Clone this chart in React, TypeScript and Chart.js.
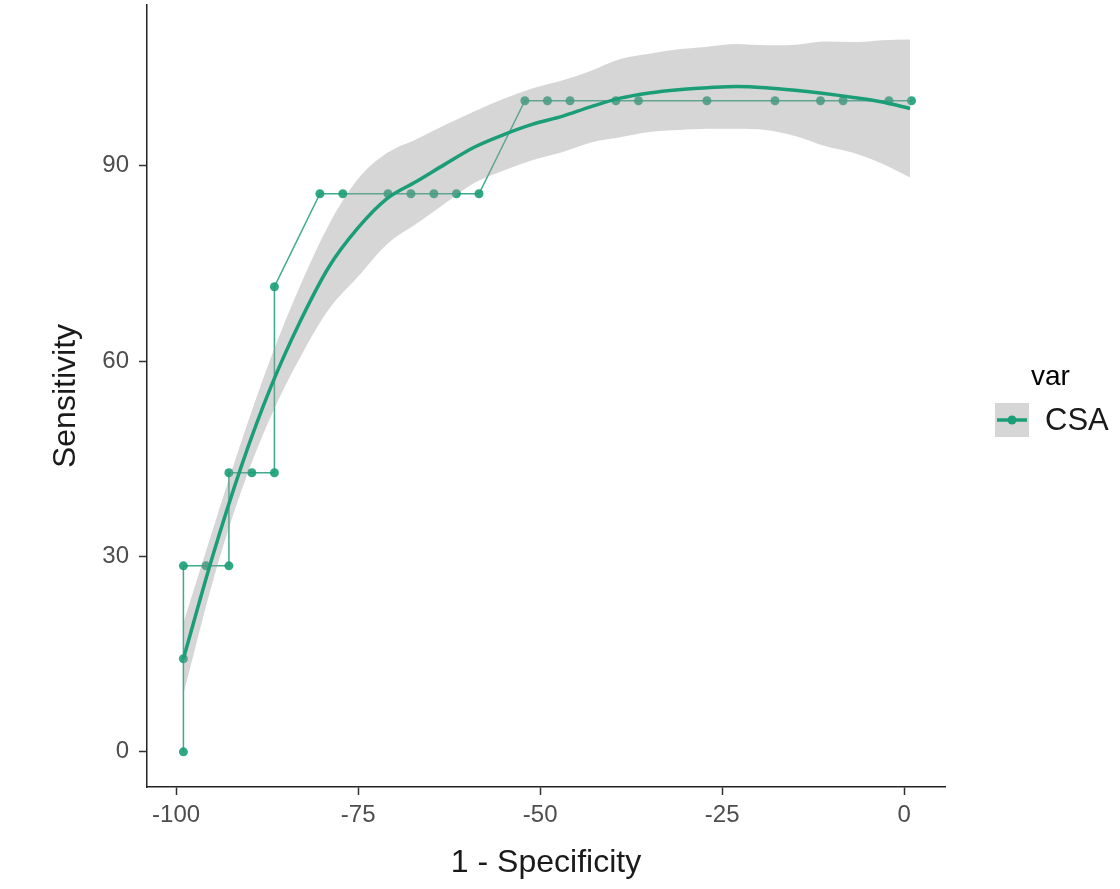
import React, { useEffect, useRef } from "react";
import { Chart, registerables } from "chart.js";

Chart.register(...registerables);

// Observed ROC-like path (1 - Specificity, Sensitivity)
const pathX = [-99, -99, -99, -95.9, -92.75, -92.75, -89.6, -86.5, -86.5, -80.25, -77.1, -70.9, -67.75, -64.6, -61.5, -58.4, -52.1, -49, -45.9, -39.6, -36.5, -27.1, -17.75, -11.5, -8.4, -2.1, 1];
const pathY = [0, 14.29, 28.57, 28.57, 28.57, 42.86, 42.86, 42.86, 71.43, 85.71, 85.71, 85.71, 85.71, 85.71, 85.71, 85.71, 100, 100, 100, 100, 100, 100, 100, 100, 100, 100, 100];

// Loess smooth and its confidence band
const smoothX = [-99, -95, -91, -87, -83, -79, -75, -71, -67, -63, -59, -55, -51, -47, -43, -39, -35, -31, -27, -23, -19, -15, -11, -7, -3, 0.8];
const smoothY = [14.3, 30, 44, 56, 66, 74.5, 80.5, 85, 87.6, 90.3, 92.9, 94.8, 96.4, 97.6, 99.1, 100.4, 101.2, 101.7, 102.0, 102.2, 102.0, 101.6, 101.1, 100.5, 99.8, 98.8];
const bandHalf = [5.5, 4, 3.8, 4.5, 5.5, 6.5, 7.5, 7, 6.5, 6, 5.5, 5.5, 5.5, 5.5, 5.5, 6, 6, 6.2, 6.3, 6.5, 6.5, 7, 8, 8.5, 9.5, 10.6];

const xTicks = [-100, -75, -50, -25, 0];
const yTicks = [0, 30, 60, 90];

const seriesName = "CSA";
const legendTitle = "var";
const xTitle = "1 - Specificity";
const yTitle = "Sensitivity";

const GREEN = "#1B9E77";
const BAND = "rgba(153,153,153,0.4)";
const FONT = "'Liberation Sans', Arial, sans-serif";

export default function App() {
  const ref = useRef<HTMLCanvasElement | null>(null);

  useEffect(() => {
    document.body.style.margin = "0";
    const canvas = ref.current;
    if (!canvas) return;

    const pathData = pathX.map((x, i) => ({ x, y: pathY[i] }));
    const smoothData = smoothX.map((x, i) => ({ x, y: smoothY[i] }));
    const lowerData = smoothX.map((x, i) => ({ x, y: smoothY[i] - bandHalf[i] }));
    const upperData = smoothX.map((x, i) => ({ x, y: smoothY[i] + bandHalf[i] }));

    const legendPlugin = {
      id: "ggLegend",
      afterDraw(chart: any) {
        const ctx = chart.ctx;
        ctx.save();
        ctx.fillStyle = "#000";
        ctx.font = `28px ${FONT}`;
        ctx.textAlign = "left";
        ctx.textBaseline = "alphabetic";
        ctx.fillText(legendTitle, 1031, 385);
        // key
        ctx.fillStyle = "#D6D6D6";
        ctx.fillRect(995, 403, 34, 34);
        ctx.strokeStyle = GREEN;
        ctx.lineWidth = 3.5;
        ctx.beginPath();
        ctx.moveTo(997, 420);
        ctx.lineTo(1027, 420);
        ctx.stroke();
        ctx.fillStyle = GREEN;
        ctx.beginPath();
        ctx.arc(1012, 420, 4.5, 0, Math.PI * 2);
        ctx.fill();
        ctx.fillStyle = "#1a1a1a";
        ctx.font = `31px ${FONT}`;
        ctx.textBaseline = "middle";
        ctx.fillText(seriesName, 1045, 421);
        ctx.restore();
      },
    };

    const chart = new Chart(canvas, {
      type: "line",
      data: {
        datasets: [
          {
            label: "lower",
            data: lowerData,
            borderWidth: 0,
            borderColor: "rgba(0,0,0,0)",
            pointRadius: 0,
            fill: false,
            cubicInterpolationMode: "monotone",
            order: 1,
          },
          {
            label: "upper",
            data: upperData,
            borderWidth: 0,
            borderColor: "rgba(0,0,0,0)",
            backgroundColor: BAND,
            pointRadius: 0,
            fill: "-1",
            cubicInterpolationMode: "monotone",
            order: 1,
          },
          {
            label: "smooth",
            data: smoothData,
            borderColor: GREEN,
            borderWidth: 3.5,
            pointRadius: 0,
            fill: false,
            cubicInterpolationMode: "monotone",
            order: 0,
          },
          {
            label: seriesName,
            data: pathData,
            borderColor: "rgba(27,158,119,0.85)",
            borderWidth: 1.5,
            pointRadius: 4.5,
            pointBackgroundColor: "rgba(27,158,119,0.9)",
            pointBorderWidth: 0,
            fill: false,
            tension: 0,
            order: 2,
          },
        ],
      },
      options: {
        responsive: false,
        animation: false,
        layout: { padding: { top: 5, right: 175, left: 0, bottom: 0 } },
        plugins: {
          legend: { display: false },
          tooltip: { enabled: false },
        },
        scales: {
          x: {
            type: "linear",
            min: -104,
            max: 5.6,
            afterBuildTicks: (s: any) => {
              s.ticks = xTicks.map((v) => ({ value: v }));
            },
            afterFit: (s: any) => {
              s.height = 102;
              s.paddingLeft = 0;
              s.paddingRight = 0;
            },
            grid: {
              drawOnChartArea: false,
              drawTicks: true,
              tickLength: 8,
              tickColor: "#333333",
              tickWidth: 1.5,
            },
            border: { display: true, color: "#222222", width: 1.5 },
            ticks: {
              color: "#4D4D4D",
              font: { family: FONT, size: 24 },
              padding: 6,
              maxRotation: 0,
            },
            title: {
              display: true,
              text: xTitle,
              color: "#1a1a1a",
              font: { family: FONT, size: 32 },
              padding: { top: 0, bottom: 7 },
            },
          },
          y: {
            type: "linear",
            min: -5.4,
            max: 114.7,
            afterBuildTicks: (s: any) => {
              s.ticks = yTicks.map((v) => ({ value: v }));
            },
            afterFit: (s: any) => {
              s.width = 147;
              s.paddingTop = 0;
              s.paddingBottom = 0;
            },
            grid: {
              drawOnChartArea: false,
              drawTicks: true,
              tickLength: 8,
              tickColor: "#333333",
              tickWidth: 1.5,
            },
            border: { display: true, color: "#222222", width: 1.5 },
            ticks: {
              color: "#4D4D4D",
              font: { family: FONT, size: 24 },
              padding: 10,
            },
            title: {
              display: true,
              text: yTitle,
              color: "#1a1a1a",
              font: { family: FONT, size: 32 },
              padding: { top: 47, bottom: 0 },
            },
          },
        },
      },
      plugins: [legendPlugin],
    });

    return () => chart.destroy();
  }, []);

  return (
    <div style={{ position: "absolute", left: 0, top: 0, width: 1120, height: 889 }}>
      <canvas ref={ref} width={1120} height={889} />
    </div>
  );
}
